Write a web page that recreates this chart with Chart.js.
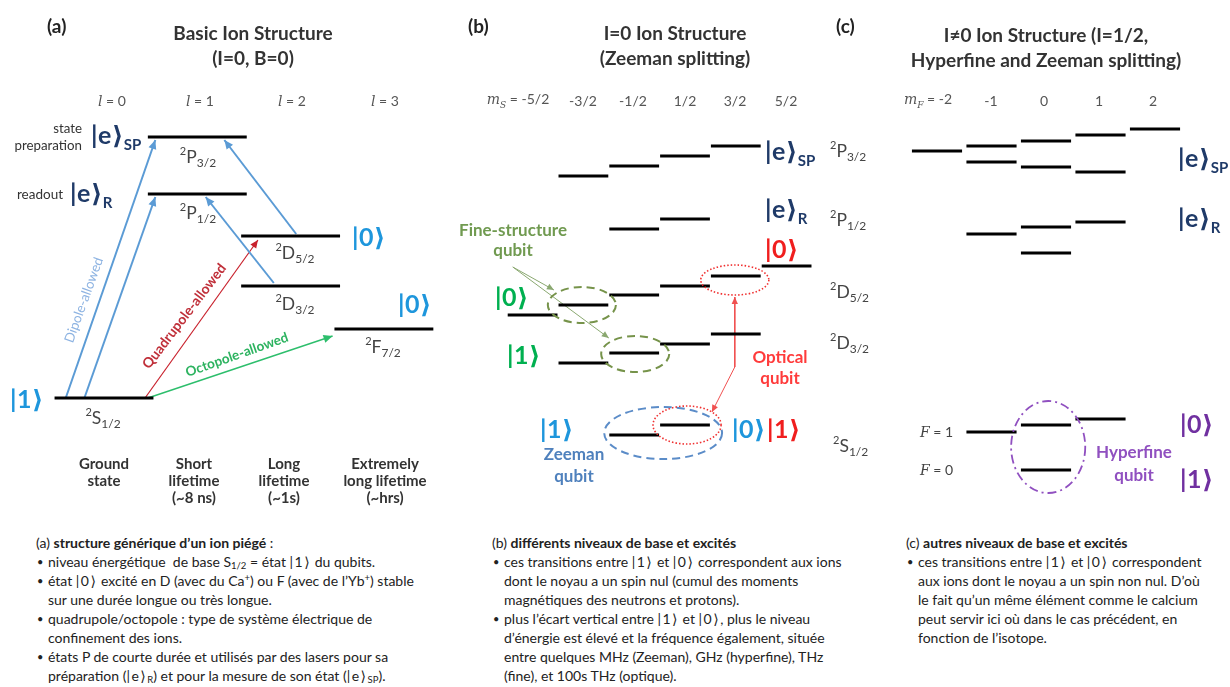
<!DOCTYPE html>
<html>
<head>
<meta charset="utf-8">
<script src="https://cdn.jsdelivr.net/npm/chart.js@4.4.1/dist/chart.umd.min.js"></script>
<style>
body { margin: 0; background: #fff; }
#page { position: relative; width: 1230px; height: 687px; overflow: hidden; font-family: Lato, 'DejaVu Sans', sans-serif; color: #333; }
.pnl { position: absolute; top: 0; height: 510px; }
.t { position: absolute; white-space: nowrap; line-height: 1; }
.c { transform: translate(-50%, -50%); text-align: center; }
.l { transform: translateY(-50%); }
.r { transform: translate(-100%, -50%); text-align: right; }
.ket { font-size: 25px; font-weight: 700; letter-spacing: 0.5px; }
.ket sub { font-size: 15px; font-weight: 700; vertical-align: -6px; letter-spacing: 0; }
.lv { font-size: 17.5px; color: #444; }
.lv sup { font-size: 11px; vertical-align: 8px; }
.lv sub { font-size: 12px; vertical-align: -4px; }
.hd { font-weight: 700; font-size: 19px; color: #222; }
.tt { font-weight: 700; font-size: 19px; line-height: 25px; color: #333; }
.ax { font-size: 14px; color: #555; }
.ax i { font-family: 'DejaVu Serif', serif; }
.q { font-weight: 700; font-size: 17px; }
.cat { font-weight: 700; font-size: 15px; line-height: 17px; color: #333; }
.notes { position: absolute; top: 533px; font-size: 14px; line-height: 19px; color: #222; white-space: nowrap; }
.notes .b { position: relative; padding-left: 12px; }
.notes .b:before { content: '•'; position: absolute; left: 1px; font-size: 11px; }
.notes sub { font-size: 9.5px; vertical-align: -2px; line-height: 0; }
.notes sup { font-size: 9.5px; vertical-align: 5px; line-height: 0; }
.notes .k { letter-spacing: 1.5px; }
</style>
</head>
<body>
<div id="page">
  <canvas id="chartA" class="pnl" style="left:0" width="450" height="510"></canvas>
  <canvas id="chartB" class="pnl" style="left:450px" width="370" height="510"></canvas>
  <canvas id="chartC" class="pnl" style="left:820px" width="410" height="510"></canvas>

  <!-- (a) -->
  <div class="t l hd" style="left:47px;top:25px">(a)</div>
  <div class="t c tt" style="left:253px;top:45px">Basic Ion Structure<br>(I=0, B=0)</div>
  <div class="t c ax" style="left:112px;top:101px"><i>l</i> = 0</div>
  <div class="t c ax" style="left:200px;top:101px"><i>l</i> = 1</div>
  <div class="t c ax" style="left:292px;top:101px"><i>l</i> = 2</div>
  <div class="t c ax" style="left:385px;top:101px"><i>l</i> = 3</div>
  <div class="t r" style="left:82px;top:137px;font-size:13.3px;line-height:17px">state<br>preparation</div>
  <div class="t l ket" style="left:91px;top:137px;color:#1F3A68">|e⟩<sub>SP</sub></div>
  <div class="t r" style="left:63px;top:195px;font-size:13.5px">readout</div>
  <div class="t l ket" style="left:70px;top:195px;color:#1F3A68">|e⟩<sub>R</sub></div>
  <div class="t l ket" style="left:352px;top:236px;color:#1E96DC">|0⟩</div>
  <div class="t l ket" style="left:398px;top:303px;color:#1E96DC">|0⟩</div>
  <div class="t l ket" style="left:10px;top:398px;color:#1E96DC">|1⟩</div>
  <div class="t c lv" style="left:198px;top:157px"><sup>2</sup>P<sub>3/2</sub></div>
  <div class="t c lv" style="left:198px;top:213px"><sup>2</sup>P<sub>1/2</sub></div>
  <div class="t c lv" style="left:295px;top:253px"><sup>2</sup>D<sub>5/2</sub></div>
  <div class="t c lv" style="left:295px;top:304px"><sup>2</sup>D<sub>3/2</sub></div>
  <div class="t c lv" style="left:383px;top:347px"><sup>2</sup>F<sub>7/2</sub></div>
  <div class="t c lv" style="left:103px;top:418px"><sup>2</sup>S<sub>1/2</sub></div>
  <div class="t" style="left:84px;top:300px;transform:translate(-50%,-50%) rotate(-70deg);font-size:13.5px;color:#8DB3E2">Dipole-allowed</div>
  <div class="t" style="left:184px;top:316px;transform:translate(-50%,-50%) rotate(-52.6deg);font-size:14px;font-weight:700;color:#C0303A">Quadrupole-allowed</div>
  <div class="t" style="left:237px;top:355px;transform:translate(-50%,-50%) rotate(-19.5deg);font-size:13.5px;font-weight:700;color:#2DB360">Octopole-allowed</div>
  <div class="t c cat" style="left:104px;top:472px">Ground<br>state</div>
  <div class="t c cat" style="left:194px;top:480px">Short<br>lifetime<br>(~8 ns)</div>
  <div class="t c cat" style="left:284px;top:480px">Long<br>lifetime<br>(~1s)</div>
  <div class="t c cat" style="left:385px;top:480px">Extremely<br>long lifetime<br>(~hrs)</div>

  <!-- (b) -->
  <div class="t l hd" style="left:468px;top:25px">(b)</div>
  <div class="t c tt" style="left:675px;top:45px">I=0 Ion Structure<br>(Zeeman splitting)</div>
  <div class="t c ax" style="left:518px;top:101px"><i>m<sub style="font-size:9px">S</sub></i> = -5/2</div>
  <div class="t c ax" style="left:583px;top:101px">-3/2</div>
  <div class="t c ax" style="left:633px;top:101px">-1/2</div>
  <div class="t c ax" style="left:685px;top:101px">1/2</div>
  <div class="t c ax" style="left:735px;top:101px">3/2</div>
  <div class="t c ax" style="left:786px;top:101px">5/2</div>
  <div class="t l ket" style="left:765px;top:153px;color:#1F3A68">|e⟩<sub>SP</sub></div>
  <div class="t l ket" style="left:765px;top:211px;color:#1F3A68">|e⟩<sub>R</sub></div>
  <div class="t l ket" style="left:765px;top:248px;color:#F01E1E">|0⟩</div>
  <div class="t c q" style="left:513px;top:240px;line-height:20px;color:#709A50">Fine-structure<br>qubit</div>
  <div class="t l ket" style="left:495px;top:296px;color:#00B050">|0⟩</div>
  <div class="t l ket" style="left:507px;top:354px;color:#00B050">|1⟩</div>
  <div class="t c q" style="left:780px;top:367px;line-height:21px;color:#FF3B3B">Optical<br>qubit</div>
  <div class="t l ket" style="left:540px;top:428px;color:#1E96DC">|1⟩</div>
  <div class="t l ket" style="left:732px;top:428px;color:#1E96DC">|0⟩</div>
  <div class="t l ket" style="left:767px;top:428px;color:#F01E1E">|1⟩</div>
  <div class="t c q" style="left:574px;top:465px;line-height:22px;color:#4F81BD">Zeeman<br>qubit</div>

  <!-- shared term labels -->
  <div class="t l lv" style="left:830px;top:151px"><sup>2</sup>P<sub>3/2</sub></div>
  <div class="t l lv" style="left:830px;top:220px"><sup>2</sup>P<sub>1/2</sub></div>
  <div class="t l lv" style="left:830px;top:292px"><sup>2</sup>D<sub>5/2</sub></div>
  <div class="t l lv" style="left:830px;top:343px"><sup>2</sup>D<sub>3/2</sub></div>
  <div class="t l lv" style="left:833px;top:446px"><sup>2</sup>S<sub>1/2</sub></div>

  <!-- (c) -->
  <div class="t l hd" style="left:836px;top:25px">(c)</div>
  <div class="t c tt" style="left:1046px;top:47px">I≠0 Ion Structure (I=1/2,<br>Hyperfine and Zeeman splitting)</div>
  <div class="t c ax" style="left:928px;top:101px"><i>m<sub style="font-size:9px">F</sub></i> = -2</div>
  <div class="t c ax" style="left:991px;top:101px">-1</div>
  <div class="t c ax" style="left:1044px;top:101px">0</div>
  <div class="t c ax" style="left:1099px;top:101px">1</div>
  <div class="t c ax" style="left:1153px;top:101px">2</div>
  <div class="t l ket" style="left:1178px;top:160px;color:#1F3A68">|e⟩<sub>SP</sub></div>
  <div class="t l ket" style="left:1178px;top:220px;color:#1F3A68">|e⟩<sub>R</sub></div>
  <div class="t l" style="left:920px;top:432px;font-size:14px;color:#444"><i style="font-family:'DejaVu Serif',serif">F</i> = 1</div>
  <div class="t l" style="left:920px;top:470px;font-size:14px;color:#444"><i style="font-family:'DejaVu Serif',serif">F</i> = 0</div>
  <div class="t c q" style="left:1134px;top:463px;line-height:23px;color:#9050C0">Hyperfine<br>qubit</div>
  <div class="t l ket" style="left:1180px;top:423px;color:#7030A0">|0⟩</div>
  <div class="t l ket" style="left:1180px;top:478px;color:#7030A0">|1⟩</div>

  <!-- notes -->
  <div class="notes" style="left:36px">
    <div>(a) <b>structure générique d’un ion piégé</b> :</div>
    <div class="b">niveau énergétique&nbsp; de base S<sub>1/2</sub> = état <span class="k">|1⟩</span> du qubits.</div>
    <div class="b">état <span class="k">|0⟩</span> excité en D (avec du Ca<sup>+</sup>) ou F (avec de l’Yb<sup>+</sup>) stable<br>sur une durée longue ou très longue.</div>
    <div class="b">quadrupole/octopole : type de système électrique de<br>confinement des ions.</div>
    <div class="b">états P de courte durée et utilisés par des lasers pour sa<br>préparation (<span class="k">|e⟩</span><sub>R</sub>) et pour la mesure de son état (<span class="k">|e⟩</span><sub>SP</sub>).</div>
  </div>
  <div class="notes" style="left:492px">
    <div>(b) <b>différents niveaux de base et excités</b></div>
    <div class="b">ces transitions entre <span class="k">|1⟩</span> et <span class="k">|0⟩</span> correspondent aux ions<br>dont le noyau a un spin nul (cumul des moments<br>magnétiques des neutrons et protons).</div>
    <div class="b">plus l’écart vertical entre <span class="k">|1⟩</span> et <span class="k">|0⟩</span>, plus le niveau<br>d’énergie est élevé et la fréquence également, située<br>entre quelques MHz (Zeeman), GHz (hyperfine), THz<br>(fine), et 100s THz (optique).</div>
  </div>
  <div class="notes" style="left:906px">
    <div>(c) <b>autres niveaux de base et excités</b></div>
    <div class="b">ces transitions entre <span class="k">|1⟩</span> et <span class="k">|0⟩</span> correspondent<br>aux ions dont le noyau a un spin non nul. D’où<br>le fait qu’un même élément comme le calcium<br>peut servir ici où dans le cas précédent, en<br>fonction de l’isotope.</div>
  </div>
</div>

<script>
// (a) niveaux de base : moment orbital l et énergie relative (S1/2 = 0)
const aLevelNames = ['2S1/2', '2P1/2', '2P3/2', '2D3/2', '2D5/2', '2F7/2'];
const aLevelL = [0, 1, 1, 2, 2, 3];
const aLevelE = [0, 204, 261, 112, 162, 69];

// transitions (a) : [l, E] départ -> arrivée
const aDipoleFrom = [[-0.41, 0], [-0.21, 0], [2.06, 164], [1.82, 115]];
const aDipoleTo = [[0.55, 258], [0.55, 201], [1.29, 258], [1.09, 201]];
const aQuadFrom = [0.44, 0];
const aQuadTo = [1.65, 158];
const aOctFrom = [0.47, 0];
const aOctTo = [2.45, 62];

// (b) sous-niveaux Zeeman m_S
const bMs = [-2.5, -1.5, -0.5, 0.5, 1.5, 2.5];
const bP32 = [null, 259, 269, 279, 289, null];
const bP12 = [null, null, 206, 216, null, null];
const bD52 = [120, 130, 140, 149, 159, 169];
const bD32 = [null, 72, 82, 91, 101, null];
const bS12 = [null, null, 0, 10, null, null];

// (b) flèches "Fine-structure qubit" et "Optical qubit" : [m, E]
const bFineFrom = [-2.89, 168];
const bFineTo = [[-2.08, 145], [-1.0, 97]];
const bOptical = [[1.48, 138], [1.48, 68], [1.03, 23]];

// (c) sous-niveaux hyperfins m_F
const cMf = [-2, -1, 0, 1, 2];
const cP32Upper = [319, 324, 329, 335, 341];
const cP32Lower = [null, 308, 303, 298, null];
const cP12Upper = [null, 236, 243, 248, null];
const cP12Lower = [null, null, 217, null, null];
const cS12F1 = [null, 38, 45, 51, null];
const cS12F0 = [null, null, 0, null, null];

// segments horizontaux (un par niveau), séparés par des trous
function segs(xs, es, half) {
  const pts = [];
  xs.forEach((x, i) => {
    if (es[i] === null) return;
    pts.push({ x: x - half, y: es[i] }, { x: x + half, y: es[i] }, { x: x, y: null });
  });
  return pts;
}

function levelSet(data) {
  return { data, showLine: true, borderColor: '#000', borderWidth: 3, pointRadius: 0, clip: false, spanGaps: false };
}

function arrowSet(points, color, width, arrow, head, dash) {
  return {
    data: points.map(p => ({ x: p[0], y: p[1] })),
    showLine: true, borderColor: color, borderWidth: width, pointRadius: 0, clip: false,
    borderDash: dash || [], arrow, head
  };
}

// pointes de flèches + ellipses
function shapesPlugin(ellipses) {
  return {
    id: 'shapes',
    afterDatasetsDraw(chart) {
      const ctx = chart.ctx;
      const xs = chart.scales.x;
      const ys = chart.scales.y;
      ellipses.forEach(e => {
        const cx = xs.getPixelForValue(e.x);
        const cy = ys.getPixelForValue(e.y);
        const rx = Math.abs(xs.getPixelForValue(e.x + e.rx) - cx);
        const ry = Math.abs(ys.getPixelForValue(e.y + e.ry) - cy);
        ctx.save();
        ctx.strokeStyle = e.color;
        ctx.lineWidth = e.width;
        ctx.setLineDash(e.dash);
        ctx.beginPath();
        ctx.ellipse(cx, cy, rx, ry, 0, 0, Math.PI * 2);
        ctx.stroke();
        ctx.restore();
      });
      chart.data.datasets.forEach((ds, i) => {
        if (!ds.arrow) return;
        const pts = chart.getDatasetMeta(i).data;
        drawHead(ctx, pts[pts.length - 2], pts[pts.length - 1], ds.borderColor, ds.head);
        if (ds.arrow === 'both') drawHead(ctx, pts[1], pts[0], ds.borderColor, ds.head);
      });
    }
  };
}

function drawHead(ctx, from, to, color, size) {
  const ang = Math.atan2(to.y - from.y, to.x - from.x);
  ctx.save();
  ctx.fillStyle = color;
  ctx.translate(to.x, to.y);
  ctx.rotate(ang);
  ctx.beginPath();
  ctx.moveTo(0, 0);
  ctx.lineTo(-size, -size * 0.45);
  ctx.lineTo(-size, size * 0.45);
  ctx.closePath();
  ctx.fill();
  ctx.restore();
}

function makeChart(id, xRange, yRange, datasets, ellipses) {
  return new Chart(document.getElementById(id), {
    type: 'scatter',
    data: { datasets },
    options: {
      responsive: false,
      animation: false,
      devicePixelRatio: 1,
      layout: { padding: 0 },
      events: [],
      plugins: { legend: { display: false }, tooltip: { enabled: false } },
      scales: {
        x: { type: 'linear', display: false, min: xRange[0], max: xRange[1] },
        y: { type: 'linear', display: false, min: yRange[0], max: yRange[1] }
      }
    },
    plugins: [shapesPlugin(ellipses)]
  });
}

// panneau (a)
const aSets = [levelSet(segs(aLevelL, aLevelE, 0.53))];
aDipoleFrom.forEach((f, i) => aSets.push(arrowSet([f, aDipoleTo[i]], '#5B9BD5', 2, 'end', 9)));
aSets.push(arrowSet([aQuadFrom, aQuadTo], '#C8202C', 1.2, 'end', 8));
aSets.push(arrowSet([aOctFrom, aOctTo], '#2DBE6C', 1.4, 'end', 9));
makeChart('chartA', [-1.1147, 3.7085], [-112, 398], aSets, []);

// panneau (b)
const bSets = [bP32, bP12, bD52, bD32, bS12].map(es => levelSet(segs(bMs, es, 0.49)));
bFineTo.forEach(t => bSets.push(arrowSet([bFineFrom, t], '#8AA870', 1, 'end', 7)));
bSets.push(arrowSet(bOptical, '#F05050', 1, 'both', 7));
makeChart('chartB', [-4.126, 3.1575], [-75, 435], bSets, [
  { x: -1.53, y: 130, rx: 0.67, ry: 18, color: '#76934A', width: 2, dash: [8, 5] },
  { x: -0.48, y: 81, rx: 0.67, ry: 18, color: '#76934A', width: 2, dash: [8, 5] },
  { x: 1.48, y: 155, rx: 0.67, ry: 15, color: '#F03030', width: 1.6, dash: [1.5, 2] },
  { x: 0.54, y: 10, rx: 0.67, ry: 19, color: '#F03030', width: 1.6, dash: [1.5, 2] },
  { x: 0.07, y: 2, rx: 1.16, ry: 26, color: '#5B8CC8', width: 2, dash: [8, 5] }
]);

// panneau (c)
const cSets = [cP32Upper, cP32Lower, cP12Upper, cP12Lower, cS12F1, cS12F0].map(es => levelSet(segs(cMf, es, 0.46)));
makeChart('chartC', [-4.1468, 3.3761], [-40, 470], cSets, [
  { x: 0.04, y: 23, rx: 0.68, ry: 46, color: '#9050C0', width: 1.8, dash: [9, 4, 2, 4] }
]);
</script>
</body>
</html>
